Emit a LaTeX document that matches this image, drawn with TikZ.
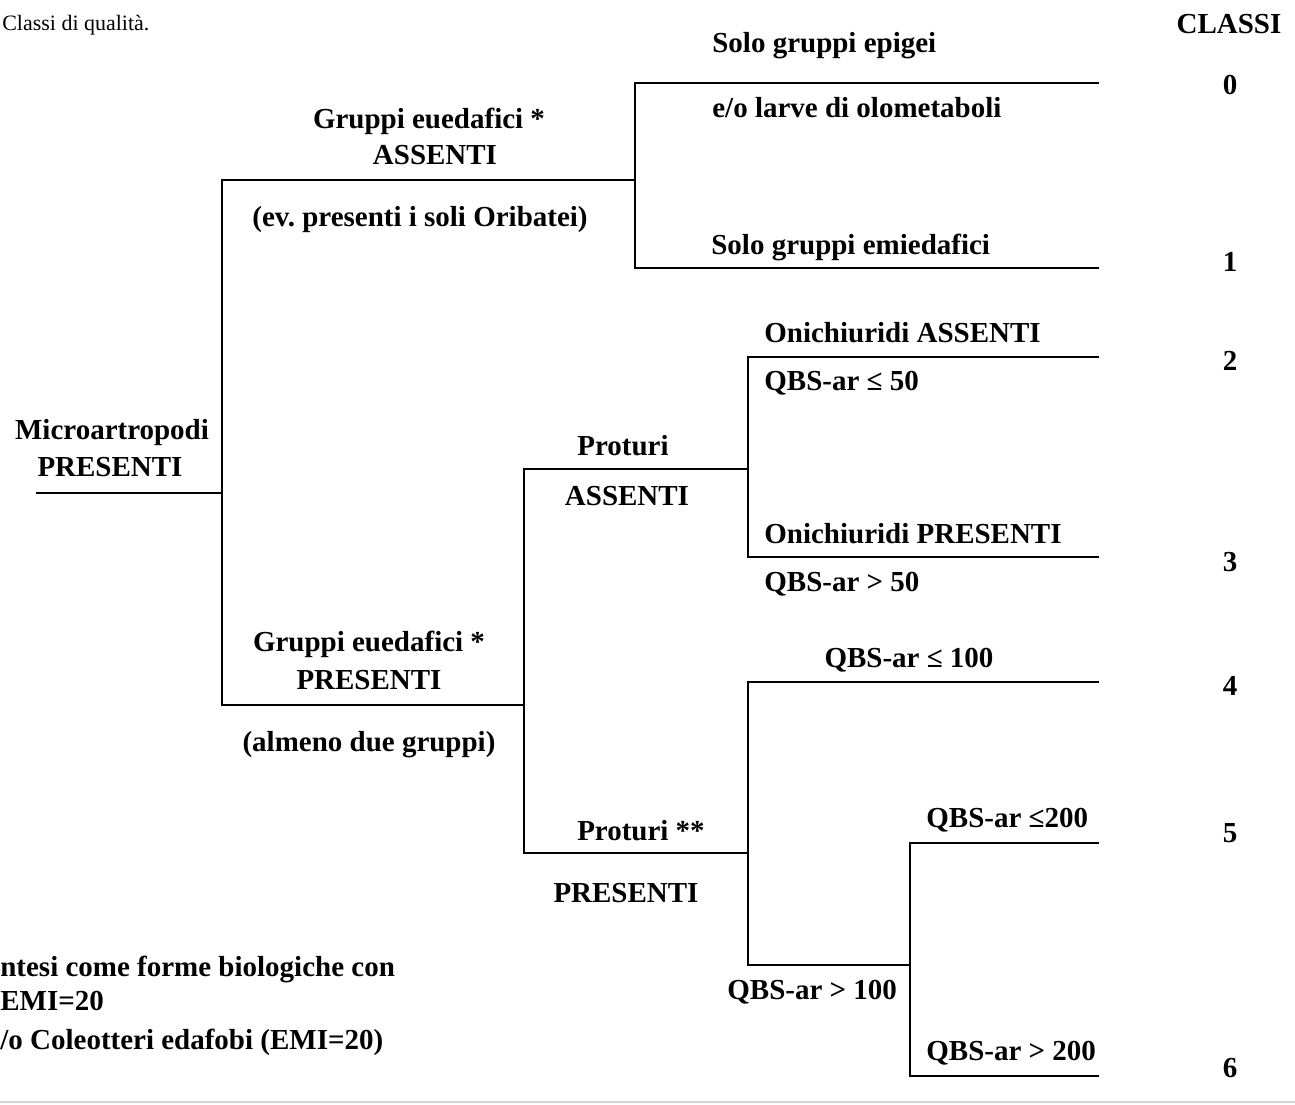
\documentclass[tikz,border=0pt]{standalone}
\usepackage{fontspec}
\setmainfont{Liberation Serif}
\frenchspacing
\begin{document}
\begin{tikzpicture}[x=0.02cm,y=-0.02cm,
  lbl/.style={inner sep=0pt,font=\fontsize{16.5}{19}\selectfont\bfseries},
  lblw/.style={lbl,anchor=west},
  small/.style={inner sep=0pt,anchor=west,font=\fontsize{12.5}{14}\selectfont},
  edge/.style={line width=1.6pt,line cap=rect}]
\useasboundingbox (0,0) rectangle (1295,1105);
% junction coordinates
\coordinate (r0) at (37,493);
\coordinate (r1) at (222,493);
\coordinate (a0) at (222,180);
\coordinate (a1) at (635,180);
\coordinate (c0) at (635,83);
\coordinate (c0e) at (1098,83);
\coordinate (c1) at (635,268);
\coordinate (c1e) at (1098,268);
\coordinate (b0) at (222,705);
\coordinate (b1) at (524,705);
\coordinate (p0) at (524,469);
\coordinate (p1) at (748,469);
\coordinate (c2) at (748,357);
\coordinate (c2e) at (1098,357);
\coordinate (c3) at (748,557);
\coordinate (c3e) at (1098,557);
\coordinate (q0) at (524,853);
\coordinate (q1) at (748,853);
\coordinate (c4) at (748,682);
\coordinate (c4e) at (1098,682);
\coordinate (s0) at (748,965);
\coordinate (s1) at (910,965);
\coordinate (c5) at (910,843);
\coordinate (c5e) at (1098,843);
\coordinate (c6) at (910,1076);
\coordinate (c6e) at (1098,1076);
% tree
\draw[edge] (r0) -- (r1);
\draw[edge] (a0) -- (b0);
\draw[edge] (a0) -- (a1);
\draw[edge] (c0) -- (c1);
\draw[edge] (c0) -- (c0e);
\draw[edge] (c1) -- (c1e);
\draw[edge] (b0) -- (b1);
\draw[edge] (p0) -- (q0);
\draw[edge] (p0) -- (p1);
\draw[edge] (c2) -- (c3);
\draw[edge] (c2) -- (c2e);
\draw[edge] (c3) -- (c3e);
\draw[edge] (q0) -- (q1);
\draw[edge] (c4) -- (s0);
\draw[edge] (c4) -- (c4e);
\draw[edge] (s0) -- (s1);
\draw[edge] (c5) -- (c6);
\draw[edge] (c5) -- (c5e);
\draw[edge] (c6) -- (c6e);
% faint scan edge at the bottom
\draw[gray!35,line width=1.5pt] (0,1102) -- (1295,1102);
% texts
\node[small] (title) at (2,25) {Classi di qualità.};
\node[lbl] (classi) at (1229,24) {CLASSI};
\node[lbl] (k0) at (1230,85) {0};
\node[lbl] (k1) at (1230,262) {1};
\node[lbl] (k2) at (1230,361) {2};
\node[lbl] (k3) at (1230,562) {3};
\node[lbl] (k4) at (1230,686) {4};
\node[lbl] (k5) at (1230,833) {5};
\node[lbl] (k6) at (1230,1068) {6};
\node[lbl] (micro1) at (112,433) {Microartropodi};
\node[lbl] (micro2) at (110,467) {PRESENTI};
\node[lbl] (ga1) at (429,121) {Gruppi euedafici *};
\node[lbl] (ga2) at (435,155) {ASSENTI};
\node[lbl] (ga3) at (420,220) {(ev. presenti i soli Oribatei)};
\node[lblw] (t0a) at (712,46) {Solo gruppi epigei};
\node[lblw] (t0b) at (712,108) {e/o larve di olometaboli};
\node[lblw] (t1) at (711,247) {Solo gruppi emiedafici};
\node[lbl] (pa1) at (623,446) {Proturi};
\node[lbl] (pa2) at (627,496) {ASSENTI};
\node[lblw] (t2a) at (764,333) {Onichiuridi ASSENTI};
\node[lblw] (t2b) at (764,383) {QBS-ar ≤ 50};
\node[lblw] (t3a) at (764,534) {Onichiuridi PRESENTI};
\node[lblw] (t3b) at (764,584) {QBS-ar > 50};
\node[lbl] (gp1) at (369,644) {Gruppi euedafici *};
\node[lbl] (gp2) at (369,680) {PRESENTI};
\node[lbl] (gp3) at (369,745) {(almeno due gruppi)};
\node[lbl] (pp1) at (641,831) {Proturi **};
\node[lbl] (pp2) at (626,893) {PRESENTI};
\node[lbl] (t4) at (909,660) {QBS-ar ≤ 100};
\node[lblw] (t5) at (926,820) {QBS-ar ≤200};
\node[lblw] (t56) at (727,992) {QBS-ar > 100};
\node[lblw] (t6) at (926,1053) {QBS-ar > 200};
\node[lblw] (fn1) at (0,969) {ntesi come forme biologiche con};
\node[lblw] (fn2) at (0,1001) {EMI=20};
\node[lblw] (fn3) at (0,1042) {/o Coleotteri edafobi (EMI=20)};
\end{tikzpicture}
\end{document}
